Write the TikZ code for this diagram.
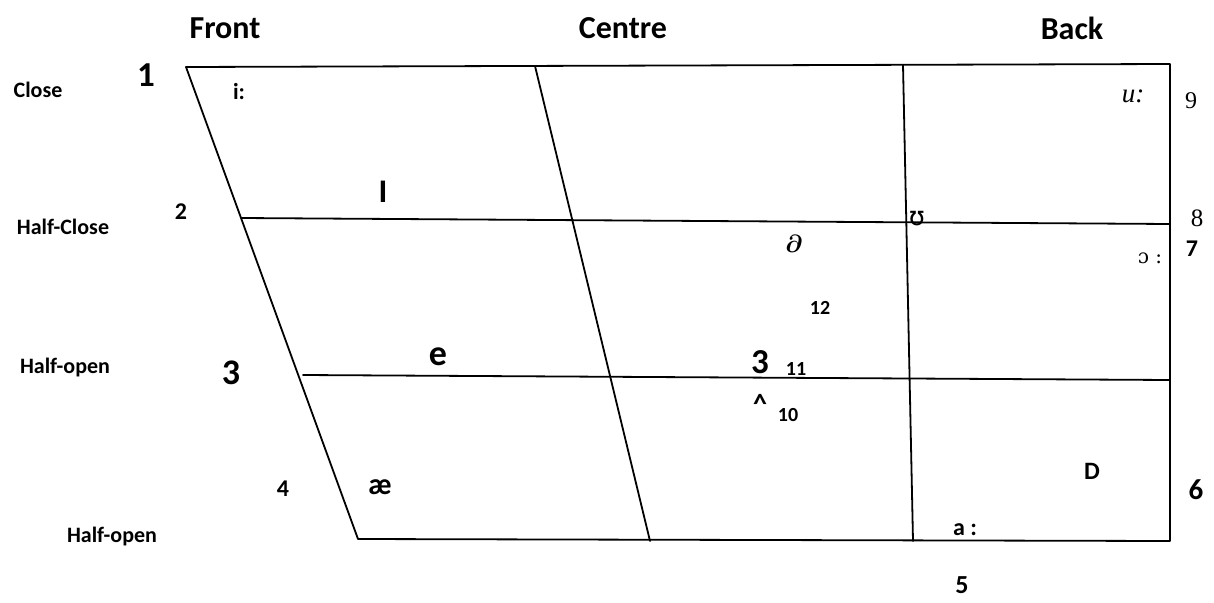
\documentclass[tikz,border=0pt]{standalone}
\usepackage{fontspec}
\setmainfont{Carlito}
\newfontfamily\seriffont{Liberation Serif}
\newfontfamily\ipafont{DejaVu Sans}
\newfontfamily\ipaserif{DejaVu Serif}
\newcommand{\fs}[1]{\fontsize{#1}{#1}\selectfont}
\begin{document}
\begin{tikzpicture}[x=1pt,y=-1pt,
  gridline/.style={line width=1.8pt, line cap=round, line join=round},
  lbl/.style={inner sep=0pt, anchor=center},
  bl/.style={lbl, font=\bfseries\fs{#1}}]
\useasboundingbox (0,0) rectangle (1214,602);
% corners
\coordinate (TL) at (186,67);
\coordinate (TR) at (1170,64);
\coordinate (BR) at (1170,541);
\coordinate (BL) at (358,539);
\coordinate (HCL) at (241,218);
\coordinate (HCR) at (1170,224);
\coordinate (HOL) at (303,375);
\coordinate (HOR) at (1170,380);
\coordinate (VAT) at (535,66);
\coordinate (VAB) at (650,541);
\coordinate (VBT) at (903,65);
\coordinate (VBB) at (913,541);
\draw[gridline] (TL) -- (TR) -- (BR) -- (BL) -- cycle;
\draw[gridline] (HCL) -- (HCR);
\draw[gridline] (HOL) -- (HOR);
\draw[gridline] (VAT) -- (VAB);
\draw[gridline] (VBT) -- (VBB);
% headings
\node[bl=32] (front) at (225,28) {Front};
\node[bl=32] (centre) at (623,28) {Centre};
\node[bl=32] (back) at (1072,28) {Back};
\node[bl=22] (close) at (38,90) {Close};
\node[bl=22] (halfclose) at (63,227) {Half-Close};
\node[bl=22] (halfopenA) at (65,368) {Half-open};
\node[bl=22] (halfopenB) at (112,537) {Half-open};
% numbers
\node[bl=35] (n1) at (146,75) {1};
\node[bl=24] (n2) at (181,212) {2};
\node[bl=36] (n3) at (231,373) {3};
\node[bl=24] (n4) at (283,489) {4};
\node[bl=26] (n5) at (962,585) {5};
\node[bl=29] (n6) at (1196,490) {6};
\node[bl=24] (n7) at (1192,249) {7};
\node[lbl,font=\seriffont\fs{25}] (n8) at (1197,218) {8};
\node[lbl,font=\seriffont\fs{24}] (n9) at (1191,101) {9};
\node[bl=20] (n10) at (788,415) {10};
\node[bl=20] (n11) at (796,369) {11};
\node[bl=20] (n12) at (820,308) {12};
% vowels
\node[bl=23] (ii) at (239,92) {i:};
\node[bl=33] (ih) at (383,192) {I};
\node[bl=36] (e) at (438,357) {e};
\node[bl=30] (ae) at (380,487) {æ};
\node[bl=35] (er) at (760,362) {3};
\node[bl=28] (uh) at (760,404) {\^{}};
\node[lbl,font=\boldmath\fs{36}] (schwa) at (794,244) {$\partial$};
\node[lbl,font=\ipafont\fs{26}] (uu) at (917,219) {ʊ};
\node[lbl,font=\seriffont\itshape\fs{27}] (u) at (1133,96) {u:};
\node[lbl,font=\ipaserif\fs{20}] (o) at (1150,258) {ɔ :};
\node[bl=25] (D) at (1092,471) {D};
\node[bl=24] (a) at (965,530) {a :};
\end{tikzpicture}
\end{document}
